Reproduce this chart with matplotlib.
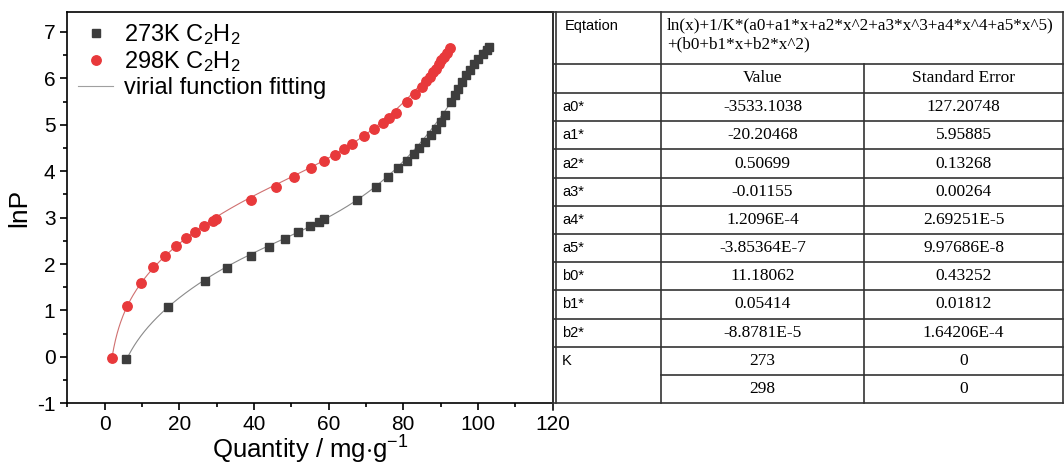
import matplotlib
matplotlib.use("Agg")
import matplotlib.pyplot as plt
import numpy as np
from matplotlib.ticker import MultipleLocator

plt.rcParams['font.family'] = ['Liberation Sans', 'DejaVu Sans']
plt.rcParams['mathtext.fontset'] = 'custom'
plt.rcParams['mathtext.rm'] = 'Liberation Sans'
plt.rcParams['mathtext.it'] = 'Liberation Sans'
plt.rcParams['axes.unicode_minus'] = False

# adsorption data
q_273 = [5.8, 17.1, 26.9, 32.9, 39.1, 44.1, 48.3, 51.8, 55.0, 57.4, 58.8, 67.7, 72.6,
         75.9, 78.7, 80.9, 82.8, 84.3, 85.8, 87.3, 88.7, 90.0, 91.1, 92.9, 93.8, 94.7,
         95.6, 96.8, 97.9, 98.9, 100.1, 101.3, 102.3, 103.0]
lnp_273 = [-0.05, 1.08, 1.64, 1.91, 2.17, 2.37, 2.55, 2.68, 2.82, 2.91, 2.97, 3.39, 3.67,
           3.88, 4.06, 4.22, 4.37, 4.50, 4.62, 4.77, 4.92, 5.07, 5.22, 5.50, 5.64, 5.78,
           5.93, 6.07, 6.19, 6.31, 6.41, 6.52, 6.62, 6.68]

q_298 = [2.0, 6.0, 9.7, 13.0, 16.1, 19.0, 21.8, 24.2, 26.7, 28.9, 29.9, 39.1, 45.8, 50.8,
         55.2, 58.7, 61.6, 64.1, 66.3, 69.6, 72.2, 74.5, 76.3, 78.0, 80.9, 83.1, 84.9,
         86.2, 87.1, 88.0, 88.7, 89.5, 90.2, 90.9, 91.6, 92.5]
lnp_298 = [-0.03, 1.10, 1.60, 1.93, 2.18, 2.39, 2.56, 2.69, 2.82, 2.93, 2.98, 3.39, 3.66,
           3.88, 4.06, 4.22, 4.35, 4.47, 4.58, 4.76, 4.92, 5.04, 5.15, 5.26, 5.49, 5.66,
           5.81, 5.94, 6.04, 6.13, 6.21, 6.30, 6.39, 6.47, 6.55, 6.65]

# fit parameters (from the table)
a_vals = [-3533.1038, -20.20468, 0.50699, -0.01155, 1.2096e-4, -3.85364e-7]
b_vals = [11.18062, 0.05414, -8.8781e-5]
temps = [273, 298]

# table text
eq_line1 = "ln(x)+1/K*(a0+a1*x+a2*x^2+a3*x^3+a4*x^4+a5*x^5)"
eq_line2 = "+(b0+b1*x+b2*x^2)"
row_names = ["a0*", "a1*", "a2*", "a3*", "a4*", "a5*", "b0*", "b1*", "b2*"]
row_values = ["-3533.1038", "-20.20468", "0.50699", "-0.01155", "1.2096E-4",
              "-3.85364E-7", "11.18062", "0.05414", "-8.8781E-5"]
row_errors = ["127.20748", "5.95885", "0.13268", "0.00264", "2.69251E-5",
              "9.97686E-8", "0.43252", "0.01812", "1.64206E-4"]
k_values = ["273", "298"]
k_errors = ["0", "0"]


def virial(q, T):
    q = np.asarray(q)
    a = sum(c * q ** i for i, c in enumerate(a_vals))
    b = sum(c * q ** i for i, c in enumerate(b_vals))
    return np.log(q) + a / T + b


def fit_curve(q, lnp, T):
    xs = np.linspace(min(q), max(q), 400)
    ys = virial(xs, T)
    keep = ys <= max(lnp) + 0.02
    return xs[keep], ys[keep]


fig = plt.figure(figsize=(10.64, 4.68), dpi=100)
ax = fig.add_axes([67.3 / 1064, 1 - 403.3 / 468, (552.6 - 67.3) / 1064, (403.3 - 12) / 468])

red = '#e8393b'
dark = '#3d3d3d'

xs, ys = fit_curve(q_273, lnp_273, temps[0])
ax.plot(xs, ys, color='#8a8a8a', lw=0.8, zorder=1)
xs, ys = fit_curve(q_298, lnp_298, temps[1])
ax.plot(xs, ys, color='#d07070', lw=0.8, zorder=1)

ax.plot(q_273, lnp_273, 's', color=dark, ms=5.8, mec=dark, label=r'273K C$_2$H$_2$', zorder=2)
ax.plot(q_298, lnp_298, 'o', color=red, ms=6.8, mec=red, label=r'298K C$_2$H$_2$', zorder=2)
ax.plot([], [], color='#a0a0a0', lw=0.8, label='virial function fitting')

ax.set_xlim(-10, 120)
ax.set_ylim(-1, 7.43)
ax.xaxis.set_major_locator(MultipleLocator(20))
ax.xaxis.set_minor_locator(MultipleLocator(10))
ax.yaxis.set_major_locator(MultipleLocator(1))
ax.yaxis.set_minor_locator(MultipleLocator(0.5))
ax.tick_params(which='major', direction='out', length=5, width=1.2, labelsize=15)
ax.tick_params(which='minor', direction='out', length=3, width=1.2)
for s in ax.spines.values():
    s.set_linewidth(1.2)
ax.set_xlabel(r'Quantity / mg$\cdot$g$^{-1}$', fontsize=18.5, labelpad=0)
ax.set_ylabel('lnP', fontsize=19, labelpad=4)

leg = ax.legend(loc='upper left', frameon=False, fontsize=17, handlelength=1.5,
                handletextpad=0.45, labelspacing=0.12, borderaxespad=0, borderpad=0,
                bbox_to_anchor=(0.022, 0.975))

# table drawn in pixel coordinates
tax = fig.add_axes([0, 0, 1, 1])
tax.set_xlim(0, 1064)
tax.set_ylim(468, 0)
tax.axis('off')

col_x = [556, 661, 864, 1063]
rows_y = [12, 64] + [93 + 28.2 * k for k in range(12)]
lc = '#333333'
lw = 1.2

for y in rows_y:
    if abs(y - rows_y[-2]) < 0.1:
        tax.plot([col_x[1], col_x[3]], [y, y], color=lc, lw=lw)
    else:
        tax.plot([553, col_x[3]], [y, y], color=lc, lw=lw)
tax.plot([553, 553], [12, 410], color=lc, lw=lw)
tax.plot([556, 556], [12, rows_y[-1]], color=lc, lw=lw)
tax.plot([col_x[1], col_x[1]], [12, rows_y[-1]], color=lc, lw=lw)
tax.plot([col_x[2], col_x[2]], [rows_y[1], rows_y[-1]], color=lc, lw=lw)
tax.plot([col_x[3], col_x[3]], [12, rows_y[-1]], color=lc, lw=lw)

serif = ['Liberation Serif', 'DejaVu Serif']
tfs = 12.5
tax.text(565, 26, 'Eqtation', fontsize=10.5, va='center', ha='left')
tax.text(667, 25, eq_line1, family=serif, fontsize=12.3, va='center', ha='left')
tax.text(667, 44, eq_line2, family=serif, fontsize=12.3, va='center', ha='left')
cx1 = (col_x[1] + col_x[2]) / 2
cx2 = (col_x[2] + col_x[3]) / 2
tax.text(cx1, (rows_y[1] + rows_y[2]) / 2, 'Value', family=serif, fontsize=tfs, va='center', ha='center')
tax.text(cx2, (rows_y[1] + rows_y[2]) / 2, 'Standard Error', family=serif, fontsize=tfs, va='center', ha='center')
for i, (n, v, e) in enumerate(zip(row_names, row_values, row_errors)):
    yc = (rows_y[i + 2] + rows_y[i + 3]) / 2
    tax.text(562, yc, n, fontsize=10.5, va='center', ha='left')
    tax.text(cx1, yc, v, family=serif, fontsize=tfs, va='center', ha='center')
    tax.text(cx2, yc, e, family=serif, fontsize=tfs, va='center', ha='center')
for j, (v, e) in enumerate(zip(k_values, k_errors)):
    yc = (rows_y[11 + j] + rows_y[12 + j]) / 2
    tax.text(cx1, yc, v, family=serif, fontsize=tfs, va='center', ha='center')
    tax.text(cx2, yc, e, family=serif, fontsize=tfs, va='center', ha='center')
tax.text(562, (rows_y[11] + rows_y[12]) / 2, 'K', fontsize=10.5, va='center', ha='left')

fig.savefig('out.png', dpi=100)
